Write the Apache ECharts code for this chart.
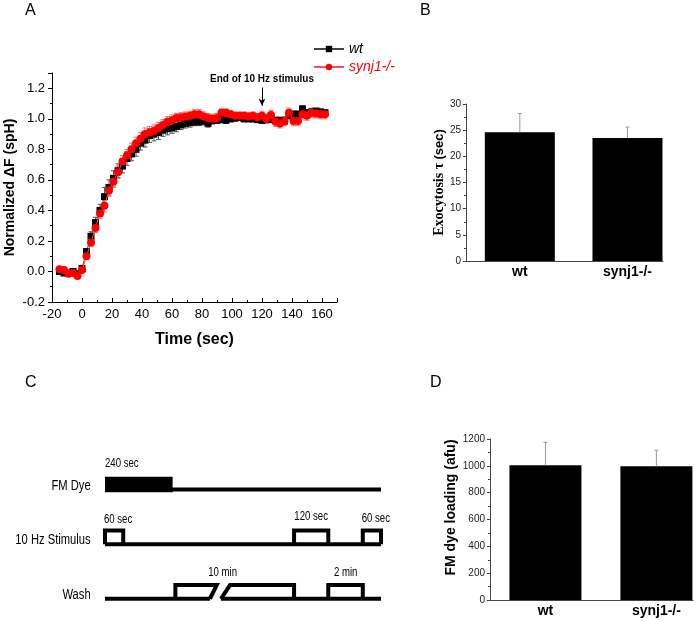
<!DOCTYPE html>
<html>
<head>
<meta charset="utf-8">
<script src="https://cdn.jsdelivr.net/npm/echarts@6/dist/echarts.min.js"></script>
<style>
  html, body { margin: 0; padding: 0; background: #fff; }
  #main { width: 698px; height: 621px; }
</style>
</head>
<body>
<div id="main"></div>
<script>
// ---- panel A: normalized dF time course ----
const timeSec = [-15, -12, -9, -6, -3, 0, 3, 6, 9, 12, 15, 18, 21, 24, 27, 30, 33, 36, 39, 42,
  45, 48, 51, 54, 57, 60, 63, 66, 69, 72, 75, 78, 81, 84, 87, 90, 93, 96, 99, 102,
  105, 108, 111, 114, 117, 120, 123, 126, 129, 132, 135, 138, 141, 144, 147, 150, 153, 156, 159, 162];
const wtMean = [0.00, -0.01, -0.01, 0.00, -0.015, 0.02, 0.13, 0.23, 0.32, 0.40,
  0.49, 0.55, 0.61, 0.66, 0.69, 0.74, 0.77, 0.80, 0.84, 0.86,
  0.89, 0.90, 0.91, 0.925, 0.935, 0.94, 0.95, 0.96, 0.97, 0.975,
  0.98, 0.98, 0.985, 0.97, 0.99, 0.99, 0.995, 0.99, 1.0, 1.005,
  1.01, 1.0, 1.0, 1.0, 0.995, 0.99, 1.0, 0.995, 0.99, 0.99,
  0.985, 1.02, 1.03, 1.03, 1.065, 1.04, 1.045, 1.05, 1.045, 1.04];
const wtErr = [0.015, 0.015, 0.015, 0.015, 0.015, 0.015, 0.02, 0.03, 0.035, 0.04,
  0.06, 0.05, 0.05, 0.045, 0.045, 0.045, 0.045, 0.045, 0.045, 0.045,
  0.045, 0.045, 0.045, 0.04, 0.04, 0.035, 0.035, 0.03, 0.03, 0.03,
  0.025, 0.025, 0.025, 0.025, 0.025, 0.02, 0.02, 0.02, 0.02, 0.02,
  0.02, 0.02, 0.02, 0.02, 0.02, 0.02, 0.02, 0.02, 0.02, 0.02,
  0.02, 0.02, 0.02, 0.02, 0.02, 0.02, 0.02, 0.02, 0.02, 0.02];
const synMean = [0.015, 0.01, -0.015, -0.01, -0.03, 0.01, 0.10, 0.19, 0.285, 0.38,
  0.43, 0.53, 0.59, 0.65, 0.72, 0.76, 0.80, 0.84, 0.87, 0.90,
  0.91, 0.92, 0.94, 0.96, 0.98, 0.99, 1.005, 1.01, 1.015, 1.02,
  1.03, 1.03, 1.015, 1.005, 1.0, 1.005, 1.04, 1.04, 1.03, 1.02,
  1.02, 1.02, 1.015, 1.02, 1.01, 1.02, 1.0, 1.025, 0.98, 0.97,
  0.985, 1.04, 0.985, 0.985, 1.03, 1.02, 1.04, 1.035, 1.03, 1.03];
const synErr = [0.015, 0.015, 0.015, 0.015, 0.015, 0.015, 0.02, 0.025, 0.03, 0.035,
  0.04, 0.04, 0.04, 0.04, 0.04, 0.04, 0.04, 0.04, 0.04, 0.04,
  0.04, 0.04, 0.035, 0.035, 0.035, 0.035, 0.03, 0.03, 0.03, 0.03,
  0.03, 0.03, 0.03, 0.03, 0.03, 0.03, 0.025, 0.025, 0.025, 0.025,
  0.025, 0.025, 0.025, 0.025, 0.025, 0.03, 0.03, 0.03, 0.03, 0.03,
  0.03, 0.03, 0.03, 0.03, 0.03, 0.03, 0.03, 0.03, 0.03, 0.03];
const stimEnd = 120;

// ---- panels B and D: bar charts ----
const groups = ['wt', 'synj1-/-'];
const groupPos = [1, 2];
const tauMean = [24.6, 23.5];
const tauErr = [3.6, 2.1];
const loadMean = [1004, 996];
const loadErr = [171, 120];

// ---- panel C: protocol schematic (x: protocol span 0-100, y: row number) ----
const protoShapes = [
  { kind: 'block', pts: [[0, 0.05], [24.5, 0.05], [24.5, -0.235], [0, -0.235]] },
  { kind: 'trace', pts: [[0, 0], [100, 0]] },
  { kind: 'trace', pts: [[0, 1], [100, 1]] },
  { kind: 'trace', pts: [[0, 1], [0, 0.75], [6.6, 0.75], [6.6, 1]] },
  { kind: 'trace', pts: [[68.5, 1], [68.5, 0.75], [80.9, 0.75], [80.9, 1]] },
  { kind: 'trace', pts: [[93.4, 1], [93.4, 0.75], [100, 0.75], [100, 1]] },
  { kind: 'trace', pts: [[0, 2], [38, 2]] },
  { kind: 'trace', pts: [[42, 2], [100, 2]] },
  { kind: 'trace', pts: [[25.5, 2], [25.5, 1.75], [40.5, 1.75], [38, 2]] },
  { kind: 'trace', pts: [[42, 2], [45.3, 1.75], [68.5, 1.75], [68.5, 2]] },
  { kind: 'trace', pts: [[80.9, 2], [80.9, 1.75], [93.4, 1.75], [93.4, 2]] }
];
const protoLabels = [
  { kind: 'pulse', text: '240 sec', x: 0, y: -0.48, align: 'left' },
  { kind: 'row', text: 'FM Dye', x: -5.2, y: -0.06, align: 'right' },
  { kind: 'pulse', text: '60 sec', x: -0.4, y: 0.56, align: 'left' },
  { kind: 'pulse', text: '120 sec', x: 74.7, y: 0.5, align: 'center' },
  { kind: 'pulse', text: '60 sec', x: 93, y: 0.53, align: 'left' },
  { kind: 'row', text: '10 Hz Stimulus', x: -5.2, y: 0.93, align: 'right' },
  { kind: 'pulse', text: '10 min', x: 42.6, y: 1.52, align: 'center' },
  { kind: 'pulse', text: '2 min', x: 87.2, y: 1.52, align: 'center' },
  { kind: 'row', text: 'Wash', x: -5.2, y: 1.93, align: 'right' }
];

const FONT = "'Liberation Sans', Arial, sans-serif";

function errorSeries(gi, data, color, cap, upOnly, z) {
  return {
    type: 'custom',
    xAxisIndex: gi,
    yAxisIndex: gi,
    z: z,
    silent: true,
    encode: { x: 0, y: [1, 2] },
    data: data,
    renderItem: function (params, api) {
      const x = api.value(0);
      const lo = api.coord([x, api.value(1)]);
      const hi = api.coord([x, api.value(2)]);
      const st = { stroke: color, lineWidth: 1 };
      const kids = [
        { type: 'line', shape: { x1: hi[0], y1: hi[1], x2: lo[0], y2: lo[1] }, style: st },
        { type: 'line', shape: { x1: hi[0] - cap, y1: hi[1], x2: hi[0] + cap, y2: hi[1] }, style: st }
      ];
      if (!upOnly) {
        kids.push({ type: 'line', shape: { x1: lo[0] - cap, y1: lo[1], x2: lo[0] + cap, y2: lo[1] }, style: st });
      }
      return { type: 'group', children: kids };
    }
  };
}

const wtPts = timeSec.map((t, i) => [t, wtMean[i]]);
const synPts = timeSec.map((t, i) => [t, synMean[i]]);
const wtBars = timeSec.map((t, i) => [t, wtMean[i] - wtErr[i], wtMean[i] + wtErr[i]]);
const synBars = timeSec.map((t, i) => [t, synMean[i] - synErr[i], synMean[i] + synErr[i]]);

const barYAxis = function (gi, max, interval, name, gap, nameStyle) {
  return {
    gridIndex: gi, type: 'value', min: 0, max: max, interval: interval,
    name: name, nameLocation: 'middle', nameGap: gap, nameTextStyle: nameStyle,
    axisLine: { show: true, onZero: false, lineStyle: { color: '#444', width: 1 } },
    axisTick: { show: true, inside: false, length: 3, lineStyle: { color: '#444' } },
    minorTick: { show: true, splitNumber: 2, length: 2, lineStyle: { color: '#444' } },
    axisLabel: { fontSize: 10, color: '#222', margin: 5, fontFamily: FONT, formatter: v => String(v) },
    splitLine: { show: false }
  };
};
const barXAxis = function (gi) {
  return {
    gridIndex: gi, type: 'value', min: 0.5, max: 2.33,
    axisLine: { show: true, onZero: false, lineStyle: { color: '#444', width: 1 } },
    axisTick: { show: false },
    axisLabel: {
      customValues: groupPos,
      formatter: v => groups[Math.round(v) - 1] || '',
      fontSize: 14, fontWeight: 'bold', color: '#000', margin: 4, fontFamily: FONT
    },
    splitLine: { show: false }
  };
};

const option = {
  animation: false,
  backgroundColor: '#fff',
  textStyle: { fontFamily: FONT },
  title: [
    { text: 'A', left: 25, top: 3, padding: 0 },
    { text: 'B', left: 420, top: 3, padding: 0 },
    { text: 'C', left: 25, top: 375, padding: 0 },
    { text: 'D', left: 430, top: 375, padding: 0 }
  ].map(t => Object.assign(t, { textStyle: { fontSize: 16, fontWeight: 'normal', color: '#000', fontFamily: FONT } })),
  legend: {
    orient: 'vertical', left: 313, top: 42, padding: 0,
    itemWidth: 30, itemHeight: 8, itemGap: 4,
    textStyle: { fontStyle: 'italic', fontSize: 14, fontFamily: FONT },
    data: [
      { name: 'wt', textStyle: { color: '#000' } },
      { name: 'synj1-/-', textStyle: { color: '#ff0000' } }
    ]
  },
  grid: [
    { left: 52, top: 73, width: 285, height: 229 },
    { left: 466, top: 104, width: 197, height: 157 },
    { left: 105, top: 456.7, width: 276, height: 153 },
    { left: 490, top: 439, width: 203, height: 161 }
  ],
  xAxis: [
    {
      gridIndex: 0, type: 'value', min: -20, max: 170, interval: 20,
      name: 'Time (sec)', nameLocation: 'middle', nameGap: 30,
      nameTextStyle: { fontSize: 16, fontWeight: 'bold', color: '#000' },
      axisLine: { onZero: false, lineStyle: { color: '#000', width: 1 } },
      axisTick: { inside: true, length: 4, lineStyle: { color: '#000' } },
      minorTick: { show: true, splitNumber: 2, length: 2, lineStyle: { color: '#000' } },
      axisLabel: { fontSize: 13, color: '#000', margin: 6, showMaxLabel: false },
      splitLine: { show: false }
    },
    barXAxis(1),
    { gridIndex: 2, type: 'value', min: 0, max: 100, show: false },
    barXAxis(3)
  ],
  yAxis: [
    {
      gridIndex: 0, type: 'value', min: -0.2, max: 1.3, interval: 0.2,
      name: 'Normalized \u0394F (spH)', nameLocation: 'middle', nameGap: 35,
      nameTextStyle: { fontSize: 14, fontWeight: 'bold', color: '#000' },
      axisLine: { show: true, onZero: false, lineStyle: { color: '#000', width: 1 } },
      axisTick: { show: true, inside: false, length: 4, lineStyle: { color: '#000' } },
      minorTick: { show: true, splitNumber: 2, length: 2, lineStyle: { color: '#000' } },
      axisLabel: { fontSize: 13, color: '#000', margin: 7, showMaxLabel: false, formatter: v => v.toFixed(1) },
      splitLine: { show: false }
    },
    barYAxis(1, 30, 5, '{s|Exocytosis \u03c4} {a|(sec)}', 19, {
      rich: {
        s: { fontFamily: "'Liberation Serif', serif", fontWeight: 'bold', fontSize: 14, color: '#000' },
        a: { fontFamily: FONT, fontWeight: 'bold', fontSize: 13, color: '#000' }
      }
    }),
    { gridIndex: 2, type: 'value', min: -0.6, max: 2.2, inverse: true, show: false },
    barYAxis(3, 1200, 200, 'FM dye loading (afu)', 32, {
      fontSize: 14, fontWeight: 'bold', color: '#000', fontFamily: FONT, padding: [0, 0, 0, 24]
    })
  ],
  series: [
    errorSeries(0, wtBars, '#555555', 2.5, false, 1),
    errorSeries(0, synBars, '#ff6a6a', 2.5, false, 1),
    {
      name: 'wt', type: 'line', xAxisIndex: 0, yAxisIndex: 0, z: 3,
      data: wtPts, symbol: 'rect', symbolSize: 7,
      itemStyle: { color: '#000' },
      lineStyle: { color: '#444', width: 1 },
      markLine: {
        silent: true, symbol: ['none', 'arrow'], symbolSize: [5, 7],
        lineStyle: { color: '#000', width: 1, type: 'solid' },
        label: {
          show: true, position: 'start', distance: 3, formatter: 'End of 10 Hz stimulus',
          fontSize: 10, fontWeight: 'bold', color: '#000', fontFamily: FONT
        },
        data: [[{ coord: [stimEnd, 1.205] }, { coord: [stimEnd, 1.085] }]]
      }
    },
    {
      name: 'synj1-/-', type: 'line', xAxisIndex: 0, yAxisIndex: 0, z: 4,
      data: synPts, symbol: 'circle', symbolSize: 8,
      itemStyle: { color: '#ff0000' },
      lineStyle: { color: '#ff5050', width: 1 }
    },
    {
      type: 'bar', xAxisIndex: 1, yAxisIndex: 1, barWidth: 70, z: 2,
      data: groupPos.map((p, i) => [p, tauMean[i]]),
      itemStyle: { color: '#000' }
    },
    errorSeries(1, groupPos.map((p, i) => [p, tauMean[i], tauMean[i] + tauErr[i]]), '#999999', 2, true, 3),
    {
      type: 'bar', xAxisIndex: 3, yAxisIndex: 3, barWidth: 72, z: 2,
      data: groupPos.map((p, i) => [p, loadMean[i]]),
      itemStyle: { color: '#000' }
    },
    errorSeries(3, groupPos.map((p, i) => [p, loadMean[i], loadMean[i] + loadErr[i]]), '#999999', 2, true, 3),
    {
      type: 'custom', xAxisIndex: 2, yAxisIndex: 2, silent: true, clip: false,
      encode: { x: 0, y: 1 },
      data: protoShapes.map(s => s.pts[0]),
      renderItem: function (params, api) {
        const s = protoShapes[params.dataIndex];
        const pts = s.pts.map(p => api.coord(p));
        if (s.kind === 'block') {
          return { type: 'polygon', shape: { points: pts }, style: { fill: '#000' } };
        }
        return {
          type: 'polyline', shape: { points: pts },
          style: { stroke: '#000', lineWidth: 4, fill: null, lineJoin: 'miter', lineCap: 'butt' }
        };
      }
    },
    {
      type: 'custom', xAxisIndex: 2, yAxisIndex: 2, silent: true, clip: false,
      encode: { x: 0, y: 1 },
      data: protoLabels.map(l => [l.x, l.y]),
      renderItem: function (params, api) {
        const l = protoLabels[params.dataIndex];
        const p = api.coord([l.x, l.y]);
        // condensed look: squeeze the text horizontally around its anchor
        return {
          type: 'text', x: p[0], y: p[1], scaleX: 0.8,
          style: {
            text: l.text, fill: '#000', align: l.align, verticalAlign: 'middle',
            fontSize: l.kind === 'row' ? 14 : 12, fontFamily: FONT
          }
        };
      }
    }
  ]
};

const myChart = echarts.init(document.getElementById('main'), null, { renderer: 'canvas' });
myChart.setOption(option);
</script>
</body>
</html>
